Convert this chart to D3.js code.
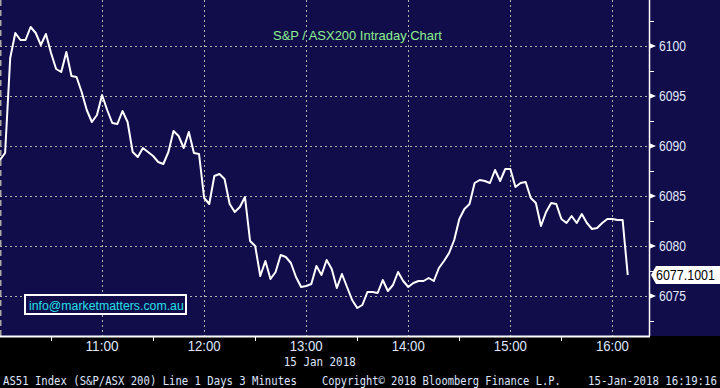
<!DOCTYPE html>
<html><head><meta charset="utf-8">
<script src="https://cdn.jsdelivr.net/npm/d3@7"></script>
<style>
html,body{margin:0;padding:0;background:#000;}
svg{display:block;}
</style></head>
<body>
<svg id="chart" width="720" height="388"></svg>
<script>
// ---- data ----
const startTime = "10:00";
const stepMinutes = 3;
const values = [
 6088.6,6089.3,6098.8,6101.3,6100.6,6100.6,6101.9,6101.3,6100.1,6101.2,
 6099.3,6097.7,6097.4,6099.4,6097.0,6096.9,6095.4,6093.6,6092.4,6093.1,
 6095.1,6093.6,6092.3,6092.2,6093.5,6092.4,6089.4,6088.9,6089.8,6089.4,
 6089.0,6088.4,6088.2,6089.4,6091.5,6091.0,6089.8,6091.4,6089.3,6089.2,
 6084.8,6084.2,6087.0,6087.2,6086.7,6084.2,6083.4,6083.9,6084.9,6080.5,
 6080.0,6077.0,6078.5,6076.7,6077.4,6079.1,6078.9,6078.3,6076.9,6075.9,
 6076.0,6076.2,6078.0,6077.1,6078.6,6077.7,6075.8,6077.2,6075.9,6074.6,
 6073.8,6074.1,6075.4,6075.4,6075.3,6076.6,6075.5,6076.1,6077.4,6076.5,
 6075.9,6076.3,6076.5,6076.5,6076.8,6076.5,6077.8,6078.5,6079.3,6080.6,
 6082.7,6083.7,6084.2,6086.3,6086.6,6086.5,6086.3,6087.6,6086.5,6087.7,
 6087.7,6085.9,6086.3,6086.4,6084.8,6084.3,6082.0,6083.4,6084.3,6084.2,
 6082.7,6082.3,6083.0,6082.3,6083.2,6082.3,6081.7,6081.8,6082.3,6082.7,
 6082.7,6082.6,6082.6,6077.1001
];
const xTickLabels = ["11:00","12:00","13:00","14:00","15:00","16:00"];
const xTickMinutes = [60,120,180,240,300,360];
const xMinorMinutes = [30,90,150,210,270,330];
const yTickValues = [6075,6080,6085,6090,6095,6100];
const yMinorValues = [6072.5,6077.5,6082.5,6087.5,6092.5,6097.5,6102.5];
const title = "S&P / ASX200 Intraday Chart";
const dateLabel = "15 Jan 2018";
const infoText = "info@marketmatters.com.au";
const footerLeft = "AS51 Index (S&P/ASX 200) Line 1 Days 3 Minutes";
const footerMid = "Copyright\u00A9 2018 Bloomberg Finance L.P.";
const footerRight = "15-Jan-2018 16:19:16";
const lastLabel = "6077.1001";

// ---- layout ----
const W = 720, H = 388;
const plotR = 649, plotB = 336;
const navy = "#100d4a";
const svg = d3.select("#chart");

const x = d3.scaleLinear().domain([0, 381.5]).range([0, plotR]);
const y = d3.scaleLinear().domain([6071, 6104.6]).range([plotB, 0]);

const data = values.map((v, i) => ({m: i * stepMinutes, v}));

// helper: text squeezed horizontally to a target width
function fitText(parent, str, tx, ty, width, opts) {
  const g = parent.append("g");
  const t = g.append("text").attr("x",0).attr("y",0)
    .attr("fill",opts.fill).attr("font-family",opts.family).attr("font-size",opts.size)
    .attr("text-anchor","start").text(str);
  const nat = t.node().getComputedTextLength() || width;
  const k = width / nat;
  let x0 = tx;
  if (opts.anchor === "middle") x0 = tx - width/2;
  g.attr("transform",`translate(${x0},${ty}) scale(${k},1)`);
  return g;
}
const SANS = "Liberation Sans, Arial, sans-serif";
const MONO = "DejaVu Sans Mono, monospace";

// backgrounds
svg.append("rect").attr("x",0).attr("y",0).attr("width",W).attr("height",H).attr("fill","#000");
svg.append("rect").attr("x",0).attr("y",0).attr("width",W).attr("height",plotB).attr("fill",navy);

// grid
const grid = svg.append("g").attr("stroke","#b4b4aa").attr("stroke-width",1).attr("stroke-dasharray","2,3");
grid.selectAll("line.h").data(yTickValues).join("line")
  .attr("x1",0).attr("x2",plotR).attr("y1",d=>Math.round(y(d))+0.5).attr("y2",d=>Math.round(y(d))+0.5);
grid.selectAll("line.v").data(xTickMinutes).join("line")
  .attr("y1",0).attr("y2",plotB).attr("x1",d=>Math.round(x(d))+0.5).attr("x2",d=>Math.round(x(d))+0.5);
svg.append("line").attr("x1",0.5).attr("x2",0.5).attr("y1",0).attr("y2",plotB)
  .attr("stroke","#a8a8a0").attr("stroke-width",2).attr("stroke-dasharray","6,4");

// axes lines
svg.append("line").attr("x1",0).attr("x2",plotR+1).attr("y1",plotB+0.5).attr("y2",plotB+0.5).attr("stroke","#fff").attr("stroke-width",2);
svg.append("line").attr("x1",plotR+0.5).attr("x2",plotR+0.5).attr("y1",0).attr("y2",plotB).attr("stroke","#fff").attr("stroke-width",1.5);

// x ticks
svg.selectAll("line.xm").data(xMinorMinutes).join("line")
  .attr("x1",d=>Math.round(x(d))+0.5).attr("x2",d=>Math.round(x(d))+0.5)
  .attr("y1",plotB).attr("y2",plotB+5).attr("stroke","#fff");
xTickLabels.forEach((lab,i)=>{
  fitText(svg, lab, x(xTickMinutes[i]), 351, 33, {fill:"#dfe8ff", family:SANS, size:14, anchor:"middle"});
});
fitText(svg, dateLabel, x(188), 366, 72, {fill:"#dfe8ff", family:MONO, size:13, anchor:"middle"});

// y ticks
svg.selectAll("line.ym").data(yMinorValues).join("line")
  .attr("x1",plotR).attr("x2",plotR+5).attr("y1",d=>Math.round(y(d))+0.5).attr("y2",d=>Math.round(y(d))+0.5)
  .attr("stroke","#fff");
svg.selectAll("path.yt").data(yTickValues).join("path")
  .attr("d",d=>{const yy=y(d);return `M${plotR},${yy-3}L${plotR+7},${yy}L${plotR},${yy+3}Z`;})
  .attr("fill","#fff");
yTickValues.forEach(v=>{
  fitText(svg, String(v), 659, y(v)+5, 27, {fill:"#e6ecff", family:SANS, size:14});
});

// line
const line = d3.line().x(d=>x(d.m)).y(d=>y(d.v));
svg.append("path").datum(data).attr("d",line).attr("fill","none")
  .attr("stroke","#fff").attr("stroke-width",2).attr("stroke-linejoin","round");

// last value label
const last = data[data.length-1];
const ly = y(last.v);
svg.append("path")
  .attr("d",`M${plotR+2},${ly}L${plotR+7},${ly-9}L${W},${ly-9}L${W},${ly+9}L${plotR+7},${ly+9}Z`)
  .attr("fill","#fff");
fitText(svg, lastLabel, 656, ly+5, 59, {fill:"#000", family:SANS, size:14});

// title
fitText(svg, title, 273, 40, 169, {fill:"#8ef08e", family:SANS, size:13.5});

// info box
svg.append("rect").attr("x",25).attr("y",295).attr("width",161).attr("height",19)
  .attr("fill",navy).attr("stroke","#fff").attr("stroke-width",2);
fitText(svg, infoText, 29, 309.5, 155, {fill:"#22e0e8", family:SANS, size:13.5});

// footer
fitText(svg, footerLeft, 3, 385, 294, {fill:"#dfe6ff", family:MONO, size:13});
fitText(svg, footerMid, 322, 385, 239, {fill:"#dfe6ff", family:MONO, size:13});
fitText(svg, footerRight, 588, 385, 129, {fill:"#dfe6ff", family:MONO, size:13});
</script>
</body></html>
